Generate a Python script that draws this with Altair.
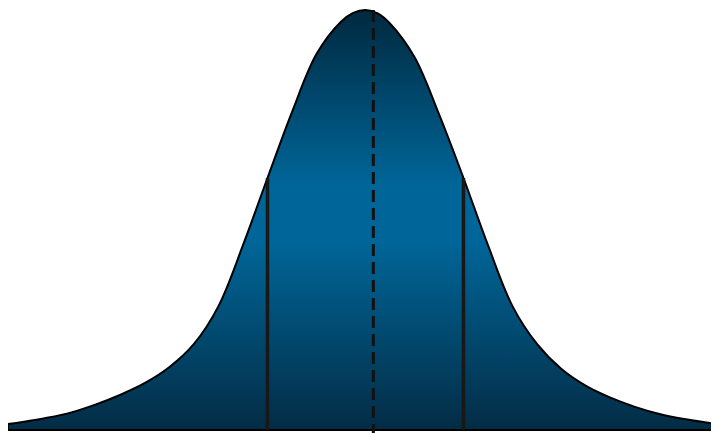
import altair as alt
import pandas as pd

# Curve: z position (in sigma units) and relative height
z_vals = [-3.65, -3.5, -3.25, -3.0, -2.75, -2.5, -2.25, -2.0, -1.75, -1.5, -1.25,
          -1.0, -0.75, -0.5, -0.25, -0.125, 0.0, 0.125, 0.25, 0.5, 0.75, 1.0, 1.25,
          1.5, 1.75, 2.0, 2.25, 2.5, 2.75, 3.0, 3.25, 3.5, 3.65]
h_vals = [0.014, 0.019, 0.029, 0.042, 0.061, 0.084, 0.112, 0.150, 0.205, 0.295, 0.44,
          0.60, 0.757, 0.895, 0.972, 0.993, 1.0, 0.992, 0.968, 0.888, 0.752, 0.60, 0.44,
          0.295, 0.205, 0.145, 0.105, 0.077, 0.055, 0.038, 0.026, 0.017, 0.012]

# Marker lines
sigma_x = [-1.0, 1.0]
sigma_top = [0.60, 0.60]
mean_x = [0.08]
mean_top = [1.0]
mean_bottom = [-0.01]

curve = pd.DataFrame({"z": z_vals, "h": h_vals})
sig = pd.DataFrame({"z": sigma_x, "top": sigma_top, "bot": [0.0, 0.0]})
mean = pd.DataFrame({"z": mean_x, "top": mean_top, "bot": mean_bottom})

xscale = alt.Scale(domain=[-3.648, 3.526], nice=False, zero=False)
yscale = alt.Scale(domain=[-0.00714, 1.0048], nice=False, zero=False)

grad = alt.Gradient(
    gradient="linear", x1=0, y1=0, x2=0, y2=1,
    stops=[
        alt.GradientStop(offset=0.0, color="#00293f"),
        alt.GradientStop(offset=0.42, color="#006699"),
        alt.GradientStop(offset=0.55, color="#006699"),
        alt.GradientStop(offset=1.0, color="#032c45"),
    ],
)

area = alt.Chart(curve).mark_area(
    color=grad, stroke="black", strokeWidth=2, interpolate="catmull-rom", clip=True
).encode(
    x=alt.X("z:Q", scale=xscale, axis=None),
    y=alt.Y("h:Q", scale=yscale, axis=None),
)

sig_rules = alt.Chart(sig).mark_rule(color="#181818", strokeWidth=3.5).encode(
    x="z:Q", y="top:Q", y2="bot:Q"
)

mean_rule = alt.Chart(mean).mark_rule(
    color="#111111", strokeWidth=3, strokeDash=[12, 6]
).encode(x="z:Q", y="top:Q", y2="bot:Q")

chart = alt.layer(area, sig_rules, mean_rule).properties(
    width=703, height=425, padding=0, autosize="none"
).configure_view(stroke=None)

chart.save("out.html", embed_options={"renderer": "svg", "actions": False})
